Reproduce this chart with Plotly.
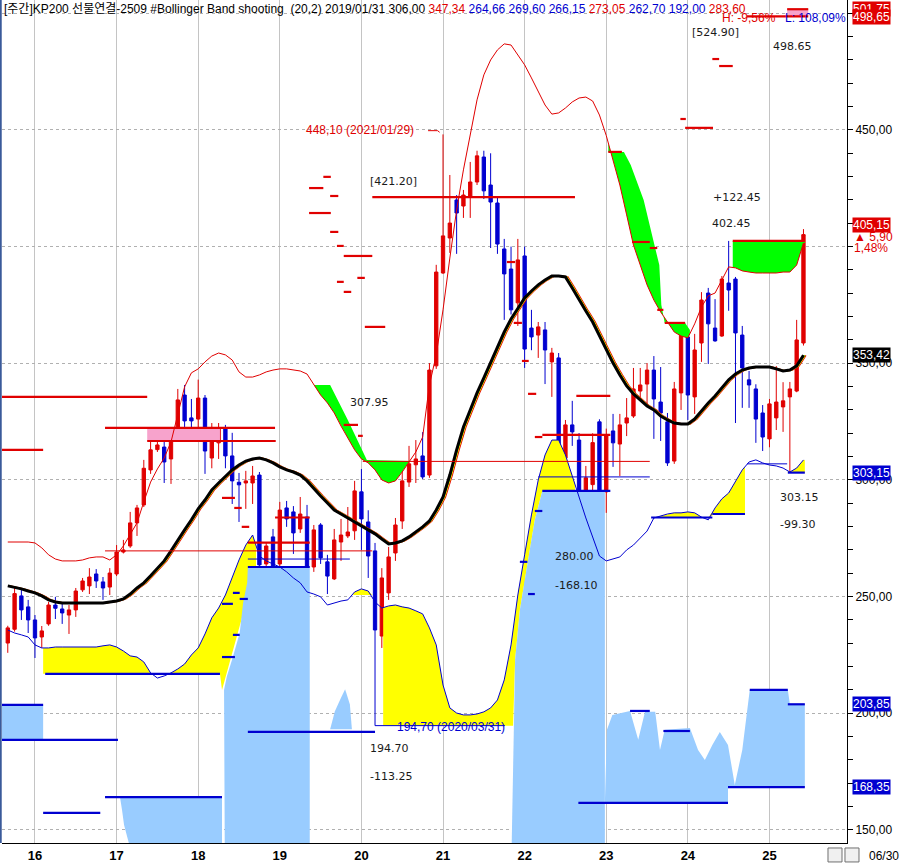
import numpy as np
import pandas as pd
import plotly.graph_objects as go

# ---------------- data ----------------
months = pd.period_range("2015-09", "2025-06", freq="M")
mi = np.array([(p.year - 2016) * 12 + p.month - 1 for p in months], dtype=float)

open_ = [230.1, 236.0, 250.3, 245.6,
         240.0, 232.7, 238.3, 246.4, 244.7, 242.1, 244.3, 252.9, 254.6, 259.7, 256.3, 254.1,
         259.7, 269.1, 271.7, 281.6, 289.3, 304.3, 313.0, 314.1, 309.0, 321.9, 336.4, 326.6,
         326.1, 335.1, 309.4, 315.9, 322.3, 310.3, 299.0, 298.7, 298.7, 302.1, 264.0, 275.6,
         264.0, 288.0, 286.3, 279.0, 284.1, 262.7, 280.7, 264.9, 257.6, 273.4, 276.0, 278.2,
         294.9, 282.0, 269.6, 233.1, 251.6, 268.7, 282.4, 299.1, 306.5, 310.3, 302.1, 348.9,
         388.7, 403.7, 420.0, 417.4, 421.3, 427.7, 438.4, 426.4, 418.7, 399.0, 390.4, 375.9,
         396.0, 365.1, 362.1, 364.3, 350.6, 352.3, 309.4, 323.6, 317.1, 286.3, 298.0, 324.9,
         294.9, 321.0, 315.4, 324.4, 327.4, 338.1, 341.1, 347.1, 333.4, 324.9, 308.1, 337.3,
         361.3, 335.6, 358.7, 380.1, 365.1, 361.7, 384.4, 386.1, 362.1, 342.9, 339.0, 328.7,
         317.6, 326.6, 331.3, 335.6, 338.1, 358.7]
high = [237.5, 253.7, 252.9, 248.6,
        242.1, 237.4, 247.7, 249.9, 247.3, 246.4, 253.7, 258.0, 262.2, 261.8, 258.4, 262.2,
        272.1, 274.3, 286.3, 289.3, 308.6, 316.3, 319.3, 317.6, 321.4, 339.0, 340.7, 334.7,
        343.0, 336.4, 324.4, 324.4, 323.6, 320.2, 303.0, 303.9, 306.0, 303.4, 273.4, 279.0,
        290.6, 291.0, 288.8, 292.7, 289.3, 280.7, 281.5, 267.9, 279.0, 283.3, 288.4, 299.6,
        304.7, 287.0, 273.0, 262.2, 271.3, 283.7, 305.6, 314.6, 317.1, 320.5, 350.1, 392.2,
        448.1, 430.7, 422.1, 424.3, 436.3, 441.1, 441.1, 440.0, 420.9, 403.3, 400.0, 403.3,
        400.0, 372.9, 367.7, 367.7, 356.6, 354.4, 325.7, 333.9, 320.1, 306.0, 320.0, 326.0,
        322.0, 328.3, 328.3, 335.1, 348.0, 348.0, 350.1, 353.1, 348.4, 328.7, 342.0, 365.6,
        363.9, 362.6, 380.5, 382.3, 377.5, 387.4, 402.45, 387.0, 366.0, 346.7, 341.0, 332.1,
        334.7, 348.8, 341.9, 342.0, 368.6, 407.5]
low = [225.9, 235.0, 240.0, 234.4,
       223.7, 228.0, 237.5, 240.4, 238.3, 234.0, 241.3, 252.0, 251.1, 253.7, 248.6, 250.7,
       258.8, 268.5, 270.9, 276.0, 288.4, 302.6, 312.0, 298.7, 298.3, 321.4, 322.7, 318.4,
       321.4, 302.6, 305.0, 309.0, 305.0, 289.7, 282.0, 287.6, 289.7, 260.1, 262.7, 254.6,
       255.9, 279.9, 268.3, 277.3, 258.8, 260.6, 264.0, 251.1, 257.1, 265.3, 275.1, 274.3,
       270.0, 258.0, 194.7, 228.0, 248.6, 265.3, 279.0, 297.0, 298.7, 300.4, 300.9, 347.6,
       388.3, 397.3, 396.9, 412.3, 412.3, 426.4, 420.4, 399.4, 396.9, 368.6, 370.9, 366.0,
       348.0, 355.6, 352.3, 341.1, 335.6, 305.0, 305.0, 314.6, 280.0, 282.4, 295.0, 290.0,
       285.9, 305.6, 301.7, 318.8, 326.6, 334.3, 331.7, 317.6, 316.7, 306.0, 306.9, 330.0,
       325.7, 328.3, 350.6, 349.7, 359.2, 361.3, 372.5, 324.4, 330.9, 330.9, 315.9, 312.4,
       314.0, 321.4, 320.6, 303.15, 337.6, 357.6]
close = [236.6, 251.3, 244.3, 240.0,
         232.3, 235.3, 246.4, 245.0, 243.0, 244.3, 252.4, 256.7, 258.4, 256.7, 253.7, 260.1,
         269.1, 270.0, 281.6, 288.0, 305.0, 312.9, 315.0, 307.7, 317.6, 334.3, 325.3, 325.3,
         335.1, 312.4, 322.3, 322.3, 310.3, 299.6, 297.9, 299.6, 301.7, 263.6, 271.7, 261.4,
         287.1, 283.3, 277.3, 285.4, 262.7, 278.6, 266.6, 258.8, 274.3, 276.4, 277.7, 295.3,
         283.3, 267.4, 235.7, 258.0, 267.0, 280.7, 299.6, 306.9, 309.0, 301.3, 347.1, 389.1,
         404.6, 410.1, 414.4, 422.1, 427.7, 438.9, 423.9, 419.1, 401.1, 388.3, 372.9, 394.3,
         356.1, 361.3, 365.6, 355.7, 354.4, 307.3, 323.6, 320.6, 282.0, 300.9, 316.0, 292.7,
         318.9, 315.9, 323.6, 326.6, 339.0, 340.7, 347.1, 334.7, 328.7, 307.3, 339.0, 362.6,
         336.4, 355.7, 377.1, 366.9, 359.6, 386.1, 381.4, 363.0, 348.0, 340.7, 326.1, 318.4,
         332.6, 333.4, 333.9, 339.0, 360.0, 405.15]

bb_upper = [273.4, 273.4, 273.4, 273.4,
            273.0, 270.9, 267.9, 266.1, 265.3, 265.3, 265.3, 265.7, 266.6, 267.0, 267.0, 265.7,
            267.9, 271.7, 276.4, 281.6, 290.6, 299.1, 304.7, 309.4, 316.3, 328.7, 339.9, 345.9,
            347.6, 350.6, 353.1, 354.4, 353.6, 351.4, 346.3, 344.1, 344.1, 345.0, 346.3, 347.1,
            347.6, 347.6, 347.1, 346.7, 345.4, 340.7, 336.4, 333.0, 328.7, 323.1, 318.0, 312.9,
            309.0, 307.3, 304.3, 300.0, 298.7, 299.6, 303.4, 307.7, 312.0, 318.4, 340.7, 353.6,
            372.9, 395.1, 415.7, 432.9, 448.7, 462.9, 473.6, 480.0, 484.3, 486.9, 486.4, 482.1,
            477.9, 472.3, 466.3, 460.7, 456.8, 457.3, 459.4, 462.0, 463.7, 464.1, 462.4, 456.4,
            447.6, 437.1, 426.4, 413.6, 400.7, 392.1, 383.6, 377.1, 372.0, 367.7, 363.4, 361.7,
            360.9, 366.9, 374.1, 378.9, 380.1, 385.7, 391.3, 390.9, 389.6, 389.1, 388.7, 388.7,
            388.7, 388.7, 389.1, 389.1, 392.1, 401.6]
bb_mid = [254.6, 254.1, 253.3, 252.4,
          251.6, 250.3, 248.6, 247.7, 247.3, 247.3, 247.3, 247.3, 247.3, 247.3, 247.3, 247.7,
          248.1, 249.0, 251.1, 253.7, 255.9, 258.9, 261.9, 265.3, 269.6, 274.3, 278.6, 282.9,
          287.6, 291.4, 295.7, 298.7, 301.7, 304.3, 306.4, 308.1, 309.0, 309.4, 308.6, 307.3,
          305.6, 304.3, 303.4, 302.1, 299.6, 296.1, 293.1, 290.1, 287.1, 285.4, 283.7, 282.0,
          280.3, 278.6, 276.9, 274.7, 272.6, 273.0, 273.9, 275.6, 277.7, 279.9, 282.4, 287.1,
          292.7, 302.1, 312.9, 322.7, 330.0, 337.3, 343.7, 350.1, 357.0, 363.4, 369.0, 373.7,
          378.0, 381.0, 383.6, 385.7, 387.4, 387.4, 387.0, 382.3, 377.1, 372.4, 367.7, 361.7,
          355.7, 350.1, 345.0, 340.3, 336.9, 334.3, 331.7, 330.0, 327.4, 325.7, 324.4, 324.0,
          324.0, 326.1, 329.6, 333.0, 336.0, 339.4, 342.9, 345.4, 347.1, 348.0, 348.4, 348.4,
          348.4, 347.6, 346.7, 347.1, 348.9, 353.42]
bb_lower = [235.7, 234.4, 233.6, 232.7,
            229.3, 228.0, 228.0, 228.4, 228.4, 228.4, 228.4, 228.4, 228.4, 228.4, 228.9, 229.3,
            228.4, 226.7, 224.6, 224.1, 222.0, 217.3, 215.1, 216.0, 217.3, 219.0, 221.1, 225.0,
            228.0, 234.0, 240.9, 245.1, 250.7, 258.0, 265.7, 272.1, 276.4, 267.4, 265.3, 264.0,
            262.7, 260.6, 258.0, 255.9, 252.0, 251.1, 249.9, 246.4, 247.3, 248.1, 248.6, 252.0,
            253.3, 252.4, 247.7, 245.1, 246.0, 246.4, 245.6, 245.1, 243.9, 242.6, 236.6, 229.3,
            212.1, 202.3, 200.1, 199.3, 199.3, 199.7, 200.6, 202.3, 205.7, 214.3, 229.3, 250.7,
            267.9, 285.0, 300.0, 310.7, 317.1, 317.1, 310.7, 302.1, 292.7, 283.7, 275.1, 267.4,
            265.3, 266.1, 267.0, 270.0, 272.1, 275.1, 278.1, 283.7, 284.6, 285.4, 285.9, 285.9,
            286.3, 285.9, 284.1, 282.9, 288.0, 291.9, 294.4, 299.6, 304.3, 307.7, 308.6, 307.3,
            306.4, 306.0, 305.1, 303.4, 305.1, 308.6]

year_ticks = [0, 12, 24, 36, 48, 60, 72, 84, 96, 108]
year_labels = ["16", "17", "18", "19", "20", "21", "22", "23", "24", "25"]
price_ticks = [150, 200, 250, 300, 350, 400, 450, 500]
price_labels = ["150,00", "200,00", "250,00", "300,00", "350,00", "", "450,00", ""]

# level lines: (start month, end month, value)
red_thick_levels = [(-4.85, 16.5, 335.6), (-4.85, 1.2, 312.9), (10.3, 35.3, 322.3), (16.5, 35.4, 316.7),
                    (35.3, 40.4, 283.9), (31.3, 40.4, 273.1), (49.6, 79.4, 421.2), (74.6, 84.6, 319.3),
                    (79.6, 84.6, 336.0), (102.6, 113.2, 402.45), (110.6, 113.7, 501.75), (104.7, 113.7, 498.65)]
red_thin_levels = [(10.3, 49.6, 269.6), (48.2, 90.4, 307.95)]
blue_thick_levels = [(-4.85, 12.2, 188.6), (-4.85, 1.2, 203.6), (1.2, 9.6, 157.3), (10.3, 27.5, 164.1),
                     (1.5, 27.2, 216.9), (31.3, 40.4, 262.7), (31.3, 50.0, 192.0), (74.6, 84.6, 295.3),
                     (90.6, 99.6, 283.9), (99.6, 104.4, 285.4), (110.7, 113.2, 303.15), (79.9, 101.9, 161.6),
                     (101.9, 113.2, 168.35), (110.7, 113.2, 203.85), (105.1, 110.7, 210.0),
                     (87.5, 90.4, 201.0), (92.4, 96.3, 192.4)]
blue_thin_levels = [(31.3, 46.3, 266.1), (50.0, 69.1, 194.7), (74.0, 90.4, 301.3), (104.7, 110.6, 306.9)]
red_dashes = [(40.3, 42.4, 425.1), (42.4, 43.5, 429.9), (43.4, 44.6, 421.7), (40.3, 43.5, 414.4),
              (43.4, 44.6, 406.3), (44.4, 45.4, 400.3), (45.4, 49.6, 396.0), (47.4, 48.5, 386.6),
              (44.4, 45.4, 384.9), (45.4, 46.5, 380.6), (48.5, 51.5, 365.6), (45.4, 47.5, 323.6),
              (47.5, 48.2, 318.9), (69.4, 70.6, 393.4), (70.4, 71.6, 367.3), (71.6, 72.6, 351.0),
              (72.5, 73.7, 336.9), (73.5, 74.6, 318.4), (27.5, 29.4, 292.3), (29.3, 30.4, 288.0),
              (30.4, 31.5, 279.9), (99.6, 100.6, 480.4), (100.6, 102.6, 477.4), (94.9, 95.7, 454.7),
              (95.6, 99.7, 450.9), (87.8, 90.4, 402.0), (90.4, 91.5, 399.4), (91.5, 92.4, 372.9),
              (92.6, 95.6, 367.3), (84.3, 86.3, 440.6)]
blue_dashes = [(27.5, 29.1, 246.9), (29.1, 30.1, 251.6), (30.1, 31.3, 249.0), (29.1, 30.1, 233.6),
               (27.5, 29.4, 224.1), (73.5, 74.6, 286.7), (71.3, 72.4, 264.9), (72.5, 73.5, 251.1)]

# fill outlines (month, value)
g2_edge_m = [40.9, 43.4, 46.0, 48.8, 55.1]
g2_edge_v = [340.7, 340.7, 325.7, 308.6, 308.1]
g3_edge_m = [84.3, 86.6, 87.6, 89.5, 90.9, 91.8, 92.1, 92.6, 95.6, 96.3]
g3_edge_v = [440.6, 440.6, 435.0, 420.0, 402.9, 392.1, 375.0, 367.3, 367.3, 364.3]
lb3_edge_m = [31.3, 31.2, 30.6, 30.1, 29.1, 28.2, 27.8, 27.9]
lb3_edge_v = [262.7, 255.9, 247.3, 234.4, 224.1, 215.6, 210.0, 144.4]
lb5_edge_m = [74.6, 73.5, 72.5, 71.3, 70.6, 70.3, 70.1]
lb5_edge_v = [295.3, 282.9, 265.7, 244.3, 222.9, 180.0, 144.4]
lb6_m = [83.8, 84.1, 84.9, 87.5, 88.7, 89.7, 91.2, 91.9, 92.6, 96.3, 97.5, 98.5, 99.6, 100.7, 101.9,
         102.9, 104.0, 105.1, 110.7, 111.0, 113.2, 113.2, 101.9, 101.9]
lb6_v = [161.6, 192.9, 199.3, 201.0, 188.6, 200.6, 200.6, 184.3, 192.9, 193.7, 184.3, 180.0, 186.4,
         192.0, 186.4, 169.3, 184.3, 210.0, 210.0, 204.0, 204.0, 168.35, 168.35, 161.6]
lb2_m = [12.5, 27.5, 27.5, 13.8, 13.1, 12.8]
lb2_v = [164.1, 164.1, 144.4, 144.4, 152.1, 158.5]
lb4_m = [43.4, 44.1, 44.9, 45.6, 46.3, 46.6]
lb4_v = [193.2, 200.9, 206.0, 210.3, 203.9, 193.2]

RED = "#e00000"
BLUE = "#0000d0"
GREEN = "#00ff00"
YELLOW = "#ffff00"
LBLUE = "#99ccff"
PINK = "#f7a3cc"

up = np.array(bb_upper)
lo = np.array(bb_lower)
mid = np.array(bb_mid)

fig = go.Figure()


def band_path(arr, m0, m1):
    inner = [m for m in mi if m0 < m < m1]
    xs = [m0] + inner + [m1]
    ys = [float(np.interp(m, mi, arr)) for m in xs]
    return xs, ys


def add_poly(xs, ys, color):
    fig.add_trace(go.Scatter(x=list(xs), y=list(ys), mode="lines", fill="toself", fillcolor=color,
                             line=dict(width=0, color=color), hoverinfo="skip", showlegend=False))


def fill_between_band(arr, m0, m1, levels, color):
    xs, ys = band_path(arr, m0, m1)
    lv = [levels(m) for m in xs]
    top = [max(a, b) for a, b in zip(ys, lv)]
    add_poly(xs + xs[::-1], top + lv[::-1], color)


# ---- green fills (above upper band)
fill_between_band(up, -4.85, 10.3, lambda m: 276.1, GREEN)
bx, by = band_path(up, 40.9, 55.1)
add_poly(g2_edge_m + bx[::-1], g2_edge_v + by[::-1], GREEN)
bx, by = band_path(up, 84.3, 96.3)
add_poly(g3_edge_m + bx[::-1], g3_edge_v + by[::-1], GREEN)
bx, by = band_path(up, 102.6, 113.2)
add_poly([102.6] + bx + [113.2], [402.45] + by + [402.45], GREEN)

# ---- yellow fills (below lower band)
bx, by = band_path(lo, 1.2, 32.5)
by = [max(v, 216.9) for v in by]
add_poly(bx + [32.5, 27.5, 27.2, 1.2], by + [262.7, 210.0, 216.9, 216.9], YELLOW)
bx, by = band_path(lo, 51.2, 79.4)
add_poly(bx + [79.4, 74.6, 73.5, 72.5, 71.3, 70.6, 70.3, 69.1, 51.2],
         by + [295.3, 295.3, 282.9, 265.7, 244.3, 222.9, 194.7, 194.7, 194.7], YELLOW)
fill_between_band(lo, 46.8, 49.6, lambda m: 250.7, YELLOW)
fill_between_band(lo, 90.6, 104.4, lambda m: 283.9 if m < 99.6 else 285.4, YELLOW)
fill_between_band(lo, 110.7, 113.2, lambda m: 303.15, YELLOW)

# ---- light blue fills
add_poly([-4.85, 1.2, 1.2, -4.85], [203.6, 203.6, 188.6, 188.6], LBLUE)
add_poly(lb2_m, lb2_v, LBLUE)
add_poly(lb3_edge_m + [40.4, 40.4], lb3_edge_v + [144.4, 262.7], LBLUE)
add_poly(lb4_m, lb4_v, LBLUE)
add_poly(lb5_edge_m + [83.8, 83.8], lb5_edge_v + [144.4, 295.3], LBLUE)
add_poly(lb6_m, lb6_v, LBLUE)

# ---- pink fills
add_poly([16.5, 27.2, 27.2, 16.5], [322.3, 322.3, 316.7, 316.7], PINK)
add_poly([110.6, 113.7, 113.7, 110.6], [501.75, 501.75, 498.65, 498.65], PINK)

# ---- candles
fig.add_trace(go.Candlestick(
    x=mi, open=open_, high=high, low=low, close=close,
    increasing=dict(line=dict(color=RED, width=1), fillcolor=RED),
    decreasing=dict(line=dict(color=BLUE, width=1), fillcolor=BLUE),
    whiskerwidth=0, hoverinfo="skip", showlegend=False))

# ---- bands
fig.add_trace(go.Scatter(x=mi, y=up, mode="lines", line=dict(color=RED, width=1), hoverinfo="skip", showlegend=False))
fig.add_trace(go.Scatter(x=mi, y=lo, mode="lines", line=dict(color=BLUE, width=1), hoverinfo="skip", showlegend=False))
for dx, col in [(0.35, RED), (0.22, YELLOW), (0.1, "#00c000")]:
    fig.add_trace(go.Scatter(x=mi + dx, y=mid, mode="lines", line=dict(color=col, width=1.5),
                             hoverinfo="skip", showlegend=False))
fig.add_trace(go.Scatter(x=mi, y=mid, mode="lines", line=dict(color="black", width=3),
                         hoverinfo="skip", showlegend=False))


def seg_trace(segs, color, width):
    xs, ys = [], []
    for a, b, v in segs:
        xs += [a, b, None]
        ys += [v, v, None]
    fig.add_trace(go.Scatter(x=xs, y=ys, mode="lines", line=dict(color=color, width=width),
                             hoverinfo="skip", showlegend=False))


seg_trace(red_thin_levels, RED, 1)
seg_trace(blue_thin_levels, BLUE, 1)
seg_trace(red_thick_levels, RED, 2.2)
seg_trace(blue_thick_levels, BLUE, 2.2)
seg_trace(red_dashes, RED, 2.2)
seg_trace(blue_dashes, BLUE, 2.2)

# pointer for high annotation
fig.add_trace(go.Scatter(x=[57.8, 59.2, 59.5], y=[449.7, 449.7, 449.0], mode="lines",
                         line=dict(color=RED, width=1), hoverinfo="skip", showlegend=False))

# ---------------- annotations ----------------
NUMF = dict(family="DejaVu Sans", size=11, color="#1a1a1a")
ann = []


def num(text, m, v, anchor="left", font=NUMF):
    ann.append(dict(text=text, x=m, y=v, xref="x", yref="y", xanchor=anchor, yanchor="middle",
                    showarrow=False, font=font))


num("[421.20]", 49.0, 427.7)
num("307.95", 46.0, 333.4)
num("194.70", 49.0, 185.1)
num("-113.25", 49.0, 172.7)
num("280.00", 76.2, 267.0)
num("-168.10", 76.2, 254.6)
num("[524.90]", 96.3, 491.6)
num("498.65", 108.2, 485.6)
num("+122.45", 99.4, 420.9)
num("402.45", 99.3, 409.7)
num("303.15", 109.3, 292.3)
num("-99.30", 109.3, 280.7)
SMALL = "Liberation Sans, Noto Sans CJK KR"
num("448,10 (2021/01/29)", 56.0, 450.0, anchor="right", font=dict(family=SMALL, size=12, color=RED))
num("194,70 (2020/03/31)", 52.9, 194.3, anchor="left", font=dict(family=SMALL, size=12, color=BLUE))

title = ("[주간]KP200 선물연결-2509 #Bollinger Band shooting &nbsp;(20,2) 2019/01/31 306,00 "
         f"<span style='color:{RED}'>347,34</span> "
         f"<span style='color:{BLUE}'>264,66 269,60 266,15</span> "
         f"<span style='color:{RED}'>273,05</span> "
         f"<span style='color:{BLUE}'>262,70 192,00</span> "
         f"<span style='color:{RED}'>283,60</span>")
ann.append(dict(text=title, xref="paper", yref="paper", x=0, y=1, xanchor="left", yanchor="top",
                xshift=0, yshift=0, showarrow=False, font=dict(family=SMALL, size=12, color="black")))
ann.append(dict(text="H: -9,56%", xref="paper", yref="y", x=(720 - 2) / 845, y=497.8, xanchor="left",
                yanchor="middle", showarrow=False, font=dict(family=SMALL, size=12, color=RED)))
ann.append(dict(text="L: 108,09%", xref="paper", yref="y", x=(783 - 2) / 845, y=497.8, xanchor="left",
                yanchor="middle", showarrow=False, font=dict(family=SMALL, size=12, color=BLUE)))

BOXF = dict(family="Liberation Sans", size=12, color="white")


def box(text, v, bg):
    ann.append(dict(text=text, xref="paper", yref="y", x=1, y=v, xanchor="left", yanchor="middle",
                    xshift=5, showarrow=False, font=BOXF, bgcolor=bg, borderpad=0))


box("501,75", 501.9, RED)
box("498,65", 498.4, RED)
box("405,15", 409.3, RED)
box("353,42", 353.42, "black")
box("303,15", 303.15, BLUE)
box("203,85", 203.85, BLUE)
box("168,35", 168.35, BLUE)
ann.append(dict(text="▲ 5,90", xref="paper", yref="y", x=1, y=404.3, xanchor="left", yanchor="middle",
                xshift=5, showarrow=False, font=dict(family="Liberation Sans", size=12, color=RED)))
ann.append(dict(text="1,48%", xref="paper", yref="y", x=1, y=399.3, xanchor="left", yanchor="middle",
                xshift=5, showarrow=False, font=dict(family="Liberation Sans", size=12, color=RED)))
ann.append(dict(text="06/30", xref="paper", yref="paper", x=1, y=0, xanchor="left", yanchor="top",
                xshift=20, yshift=-4, showarrow=False, font=dict(family="Liberation Sans", size=12, color="black")))

shapes = [
    dict(type="line", xref="paper", yref="paper", x0=-0.0015, x1=-0.0015, y0=0, y1=1,
         line=dict(color="#3a5a9a", width=2)),
    dict(type="rect", xref="paper", yref="paper", x0=0.9775, x1=0.9941, y0=-0.0059, y1=-0.0225,
         line=dict(color="#707070", width=1), fillcolor="#f0f0f0"),
    dict(type="rect", xref="paper", yref="paper", x0=0.9976, x1=1.0142, y0=-0.0059, y1=-0.0225,
         line=dict(color="#707070", width=1), fillcolor="#f0f0f0"),
]

fig.update_layout(
    width=905, height=864,
    margin=dict(l=2, r=58, t=0, b=21),
    paper_bgcolor="white", plot_bgcolor="white",
    showlegend=False,
    annotations=ann,
    shapes=shapes,
    xaxis=dict(range=[-4.85, 119.4], tickmode="array", tickvals=year_ticks, ticktext=year_labels,
               showgrid=True, gridcolor="#c4c4c4", gridwidth=1, zeroline=False,
               showline=True, linecolor="black", linewidth=1, ticks="",
               tickfont=dict(family="Liberation Sans Narrow, Liberation Sans", size=13, color="black",
                             weight="bold"),
               rangeslider=dict(visible=False), fixedrange=True),
    yaxis=dict(side="right", range=[144.4, 505.7], tickmode="array", tickvals=price_ticks,
               ticktext=price_labels, showgrid=True, gridcolor="#b0b0b0", griddash="dot", gridwidth=1,
               zeroline=False, showline=True, linecolor="black", linewidth=1,
               ticks="outside", ticklen=5, tickcolor="black",
               minor=dict(dtick=10, ticks="outside", ticklen=5, tickcolor="black", showgrid=False),
               tickfont=dict(family="Liberation Sans", size=12, color="black"), fixedrange=True),
)

fig.write_html("out.html", config={"displayModeBar": False},
               post_script="document.body.style.margin='0';document.body.style.overflow='hidden';")
